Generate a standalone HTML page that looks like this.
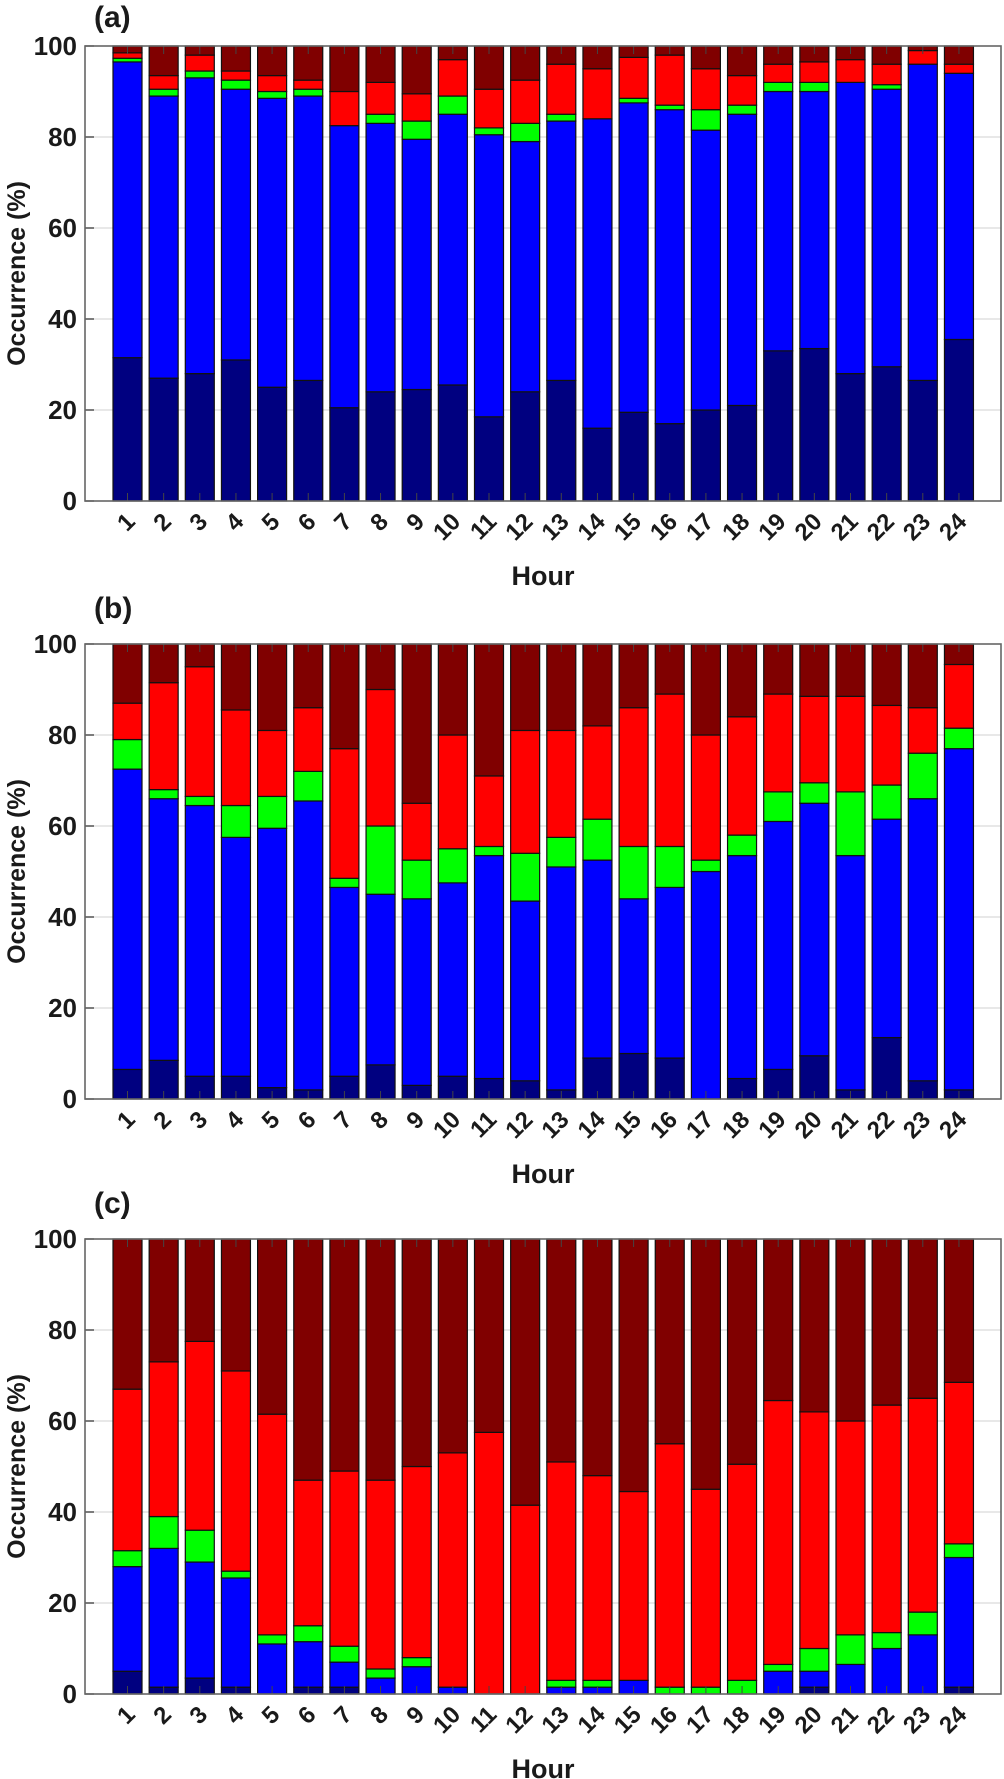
<!DOCTYPE html>
<html><head><meta charset="utf-8"><style>
html,body{margin:0;padding:0;background:#fff;}
svg{display:block;}
text{font-family:"Liberation Sans",sans-serif;font-weight:bold;fill:#1a1a1a;}
</style></head><body>
<svg id="chart" width="1004" height="1779" viewBox="0 0 1004 1779" xmlns="http://www.w3.org/2000/svg"></svg>
<script>
const hours = [1,2,3,4,5,6,7,8,9,10,11,12,13,14,15,16,17,18,19,20,21,22,23,24];
const yTicks = [0,20,40,60,80,100];
// cumulative tops: navy, blue, green, red (rest dark red to 100)
const aNavy = [31.5,27,28,31,25,26.5,20.5,24,24.5,25.5,18.5,24,26.5,16,19.5,17,20,21,33,33.5,28,29.5,26.5,35.5];
const aBlue = [96.5,89,93,90.5,88.5,89,82.5,83,79.5,85,80.5,79,83.5,84,87.5,86,81.5,85,90,90,92,90.5,96,94];
const aGreen = [97.3,90.5,94.5,92.5,90,90.5,82.5,85,83.5,89,82,83,85,84,88.5,87,86,87,92,92,92,91.5,96,94];
const aRed = [98.5,93.5,98,94.5,93.5,92.5,90,92,89.5,97,90.5,92.5,96,95,97.5,98,95,93.5,96,96.5,97,96,99,96];
const bNavy = [6.5,8.5,5,5,2.5,2,5,7.5,3,5,4.5,4,2,9,10,9,0,4.5,6.5,9.5,2,13.5,4,2];
const bBlue = [72.5,66,64.5,57.5,59.5,65.5,46.5,45,44,47.5,53.5,43.5,51,52.5,44,46.5,50,53.5,61,65,53.5,61.5,66,77];
const bGreen = [79,68,66.5,64.5,66.5,72,48.5,60,52.5,55,55.5,54,57.5,61.5,55.5,55.5,52.5,58,67.5,69.5,67.5,69,76,81.5];
const bRed = [87,91.5,95,85.5,81,86,77,90,65,80,71,81,81,82,86,89,80,84,89,88.5,88.5,86.5,86,95.5];
const cNavy = [5,1.5,3.5,1.5,0,1.5,1.5,0,0,0,0,0,0,0,0,0,0,0,0,1.5,0,0,0,1.5];
const cBlue = [28,32,29,25.5,11,11.5,7,3.5,6,1.5,0,0,1.5,1.5,3,0,0,0,5,5,6.5,10,13,30];
const cGreen = [31.5,39,36,27,13,15,10.5,5.5,8,1.5,0,0,3,3,3,1.5,1.5,3,6.5,10,13,13.5,18,33];
const cRed = [67,73,77.5,71,61.5,47,49,47,50,53,57.5,41.5,51,48,44.5,55,45,50.5,64.5,62,60,63.5,65,68.5];

const panels = [
  {label:'(a)', top:46, navy:aNavy, blue:aBlue, green:aGreen, red:aRed, labelY:27, key:'a'},
  {label:'(b)', top:644, navy:bNavy, blue:bBlue, green:bGreen, red:bRed, labelY:618, key:'b'},
  {label:'(c)', top:1239, navy:cNavy, blue:cBlue, green:cGreen, red:cRed, labelY:1213, key:'c'}
];
const H = 455, L = 85, R = 1001, BW = 29;
const colors = ['#000080','#0000ff','#00ff00','#ff0000','#800000'];
const segNames = ['navy','blue','green','red','darkred'];
const svg = document.getElementById('chart');
const NS = 'http://www.w3.org/2000/svg';
function mk(tag, attrs, parent){const e=document.createElementNS(NS,tag);for(const k in attrs)e.setAttribute(k,attrs[k]);(parent||svg).appendChild(e);return e;}
const xPos = i => 127.5 + i*36.15;

panels.forEach(p=>{
  const g = mk('g',{});
  
  
  const yS = v => p.top + H - v/100*H;
  // grid
  yTicks.forEach(t=>{
    if(t>0&&t<100){const gl=mk('line',{x1:L,x2:R,y1:yS(t),y2:yS(t),stroke:'#e0e0e0','stroke-width':1.5},g);
      
      }
    const tl=mk('text',{x:L-8,y:yS(t)+9,'text-anchor':'end','font-size':26},g);
    tl.textContent=t;
    
    
    mk('line',{x1:L,x2:L+9,y1:yS(t),y2:yS(t),stroke:'#555','stroke-width':1.5},g);
  });
  // bars
  hours.forEach((h,i)=>{
    const tops=[p.navy[i],p.blue[i],p.green[i],p.red[i],100];
    let prev=0;
    tops.forEach((t,k)=>{
      if(t-prev>0.01){
        const r=mk('rect',{x:xPos(i)-BW/2,y:yS(t),width:BW,height:yS(prev)-yS(t),fill:colors[k],stroke:'#111','stroke-width':1.2},g);
        
        
      }
      prev=t;
    });
    mk('line',{x1:xPos(i),x2:xPos(i),y1:p.top+H,y2:p.top+H-8,stroke:'#444','stroke-width':1},g);
    mk('line',{x1:xPos(i),x2:xPos(i),y1:p.top,y2:p.top+8,stroke:'#444','stroke-width':1},g);
    const xl=mk('text',{x:xPos(i)+9,y:p.top+H+22,'text-anchor':'end','font-size':24,transform:'rotate(-45 '+(xPos(i)+9)+' '+(p.top+H+22)+')'},g);
    xl.textContent=h;
    
    
  });
  const fr=mk('rect',{x:L,y:p.top,width:R-L,height:H,fill:'none',stroke:'#666','stroke-width':1.6},g);
  
  
  const xt=mk('text',{x:(L+R)/2,y:p.top+H+84,'text-anchor':'middle','font-size':27},g);
  xt.textContent='Hour';
  
  
  const cy=p.top+H/2;
  const yt=mk('text',{x:25,y:cy,'text-anchor':'middle','font-size':25,transform:'rotate(-90 25 '+cy+')'},g);
  yt.textContent='Occurrence (%)';
  
  
  const pl=mk('text',{x:94,y:p.labelY,'font-size':30},g);
  pl.textContent=p.label;
  
  
});
</script>
</body></html>
